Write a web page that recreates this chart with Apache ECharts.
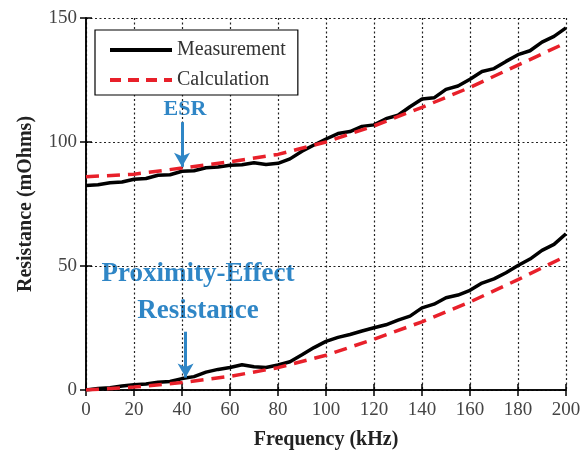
<!DOCTYPE html>
<html>
<head>
<meta charset="utf-8">
<script src="https://cdn.jsdelivr.net/npm/echarts@6/dist/echarts.min.js"></script>
<style>
  html, body { margin: 0; padding: 0; background: #fff; }
  #chart { width: 587px; height: 453px; }
</style>
</head>
<body>
<div id="chart"></div>
<script>
// frequency grid (kHz)
const freqMeas = [0,5,10,15,20,25,30,35,40,45,50,55,60,65,70,75,80,85,90,95,100,
  105,110,115,120,125,130,135,140,145,150,155,160,165,170,175,180,185,190,195,200];
// measured ESR (mOhm)
const esrMeas = [82.5,82.8,83.6,83.9,85.0,85.3,86.6,86.8,88.2,88.4,89.6,89.9,90.6,90.8,91.6,90.9,91.4,93.2,96.3,98.8,101.2,
  103.4,104.2,106.3,106.9,109.4,110.8,114.2,117.3,117.8,121.2,122.6,125.3,128.4,129.6,132.5,135.2,136.8,140.3,142.6,146.0];
// measured proximity-effect resistance (mOhm)
const proxMeas = [0.0,0.6,0.9,1.6,2.1,2.4,3.1,3.4,4.6,5.4,7.2,8.3,9.1,10.2,9.4,9.1,10.1,11.4,14.2,17.1,19.6,
  21.2,22.4,23.8,25.1,26.3,28.2,29.8,33.1,34.6,37.2,38.3,40.2,43.1,44.8,47.3,50.2,52.8,56.3,58.7,63.0];
// calculated curves
const freqCalc = [0,20,40,60,80,100,120,140,160,180,200];
const esrCalc = [86,87,89.5,92,95,100,106.5,114,122,131,140];
const proxCalc = [0,1.2,3,5.5,9,14,20.5,27.5,35.5,44.5,54];

const pair = (xs, ys) => xs.map((x, i) => [x, ys[i]]);

const serif = '"Liberation Serif", "DejaVu Serif", serif';
const blue = '#2f86c6';
const red = '#e8202a';

const chart = echarts.init(document.getElementById('chart'));

const dotted = { show: true, lineStyle: { color: '#222', type: [2, 2.5], width: 1.2 } };

const option = {
  animation: false,
  grid: { left: 86, right: 21, top: 18, bottom: 63, outerBoundsMode: 'none', containLabel: false },
  xAxis: [
    {
      type: 'value', min: 0, max: 200, interval: 20,
      axisLine: { lineStyle: { color: '#000', width: 1.5 } },
      axisTick: { inside: true, length: 6, lineStyle: { color: '#000', width: 1.5 } },
      axisLabel: { color: '#444', fontFamily: serif, fontSize: 19, margin: 11 },
      splitLine: dotted,
      name: 'Frequency (kHz)', nameLocation: 'middle', nameGap: 40,
      nameTextStyle: { fontFamily: serif, fontWeight: 'bold', fontSize: 20, color: '#222' }
    },
    {
      type: 'value', min: 0, max: 200, interval: 20, position: 'top',
      axisLine: { lineStyle: { color: '#000', width: 1.5 } },
      axisTick: { inside: true, length: 6, lineStyle: { color: '#000', width: 1.5 } },
      axisLabel: { show: false }, splitLine: { show: false }
    }
  ],
  yAxis: [
    {
      type: 'value', min: 0, max: 150, interval: 50,
      axisLine: { show: true, lineStyle: { color: '#000', width: 1.5 } },
      axisTick: { show: true, inside: true, length: 6, lineStyle: { color: '#000', width: 1.5 } },
      axisLabel: { color: '#444', fontFamily: serif, fontSize: 19, margin: 9 },
      splitLine: dotted,
      name: 'Resistance (mOhms)', nameLocation: 'middle', nameGap: 50,
      nameTextStyle: { fontFamily: serif, fontWeight: 'bold', fontSize: 20, color: '#222' }
    },
    {
      type: 'value', min: 0, max: 150, interval: 50, position: 'right',
      axisLine: { show: true, lineStyle: { color: '#000', width: 1.5 } },
      axisTick: { show: true, inside: true, length: 6, lineStyle: { color: '#000', width: 1.5 } },
      axisLabel: { show: false }, splitLine: { show: false }
    }
  ],
  legend: {
    orient: 'vertical', left: 95, top: 30,
    itemWidth: 62, itemHeight: 16, itemGap: 10,
    padding: [10, 12, 5, 13],
    borderColor: '#000', borderWidth: 1.2,
    backgroundColor: '#fff',
    textStyle: { fontFamily: serif, fontSize: 20, color: '#333', width: 118 },
    data: [
      { name: 'Measurement', itemStyle: { opacity: 0 }, lineStyle: { color: '#000', width: 4 } },
      { name: 'Calculation', itemStyle: { opacity: 0 }, lineStyle: { color: red, width: 4, type: [11, 7] } }
    ]
  },
  graphic: [
    { type: 'text', x: 185, y: 98, style: { text: 'ESR', font: 'bold 22px ' + serif, fill: blue, textAlign: 'center' } },
    { type: 'text', x: 198, y: 261, style: { text: 'Proximity-Effect', font: 'bold 27px ' + serif, fill: blue, textAlign: 'center' } },
    { type: 'text', x: 198, y: 298, style: { text: 'Resistance', font: 'bold 27px ' + serif, fill: blue, textAlign: 'center' } }
  ],
  series: [
    {
      name: 'Measurement', type: 'line', symbol: 'none', z: 3,
      lineStyle: { color: '#000', width: 3.5 },
      itemStyle: { color: '#000' },
      data: pair(freqMeas, esrMeas),
      markLine: {
        silent: true, symbol: ['none', 'arrow'], symbolSize: [12, 14],
        label: { show: false },
        lineStyle: { color: blue, width: 3, type: 'solid' },
        data: [
          [{ coord: [40, 108] }, { coord: [40, 90] }],
          [{ coord: [41.5, 23.5] }, { coord: [41.5, 5] }]
        ]
      }
    },
    {
      name: 'Measurement', type: 'line', symbol: 'none', z: 3,
      lineStyle: { color: '#000', width: 3.5 },
      data: pair(freqMeas, proxMeas)
    },
    {
      name: 'Calculation', type: 'line', symbol: 'none', z: 4,
      lineStyle: { color: red, width: 3.5, type: [13, 8] },
      itemStyle: { color: red },
      data: pair(freqCalc, esrCalc)
    },
    {
      name: 'Calculation', type: 'line', symbol: 'none', z: 4,
      lineStyle: { color: red, width: 3.5, type: [13, 8] },
      data: pair(freqCalc, proxCalc)
    }
  ]
};

chart.setOption(option);
</script>
</body>
</html>
